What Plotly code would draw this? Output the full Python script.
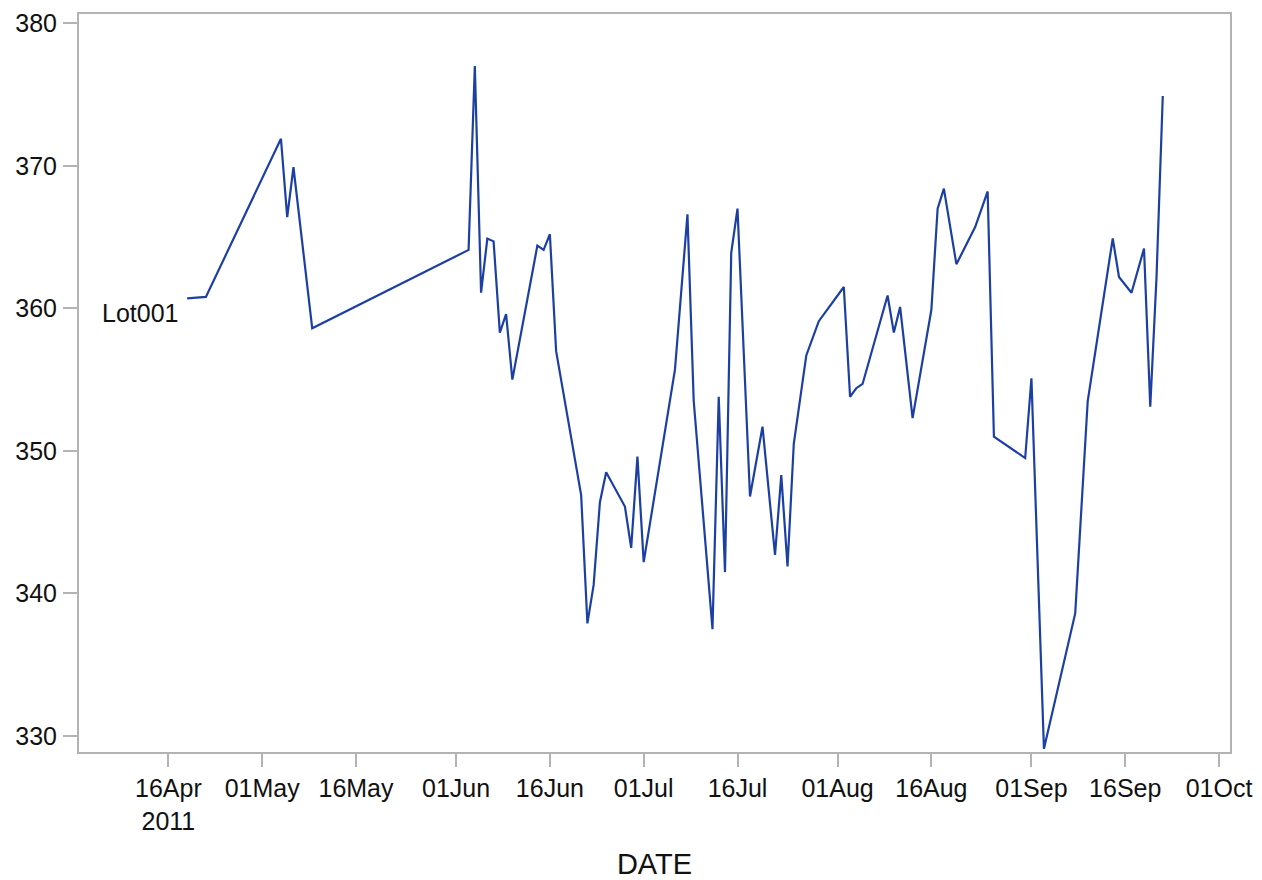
import plotly.graph_objects as go

# Measurement dates and values for Lot001
dates = [
    "2011-04-19", "2011-04-22", "2011-05-04", "2011-05-05", "2011-05-06", "2011-05-09",
    "2011-06-03", "2011-06-04", "2011-06-05", "2011-06-06", "2011-06-07", "2011-06-08",
    "2011-06-09", "2011-06-10", "2011-06-14", "2011-06-15", "2011-06-16", "2011-06-17",
    "2011-06-21", "2011-06-22", "2011-06-23", "2011-06-24", "2011-06-25", "2011-06-28",
    "2011-06-29", "2011-06-30", "2011-07-01", "2011-07-06", "2011-07-08", "2011-07-09",
    "2011-07-12", "2011-07-13", "2011-07-14", "2011-07-15", "2011-07-16", "2011-07-18",
    "2011-07-20", "2011-07-22", "2011-07-23", "2011-07-24", "2011-07-25", "2011-07-27",
    "2011-07-29", "2011-08-02", "2011-08-03", "2011-08-04", "2011-08-05", "2011-08-09",
    "2011-08-10", "2011-08-11", "2011-08-13", "2011-08-16", "2011-08-17", "2011-08-18",
    "2011-08-20", "2011-08-23", "2011-08-25", "2011-08-26", "2011-08-31", "2011-09-01",
    "2011-09-03", "2011-09-08", "2011-09-10", "2011-09-14", "2011-09-15", "2011-09-17",
    "2011-09-19", "2011-09-20", "2011-09-21", "2011-09-22",
]
values = [
    360.7, 360.8, 371.9, 366.4, 369.9, 358.6,
    364.1, 377.0, 361.1, 364.9, 364.7, 358.3,
    359.6, 355.0, 364.4, 364.1, 365.2, 357.0,
    346.9, 337.9, 340.6, 346.4, 348.5, 346.1,
    343.2, 349.6, 342.2, 355.7, 366.6, 353.5,
    337.5, 353.8, 341.5, 363.9, 367.0, 346.8,
    351.7, 342.7, 348.3, 341.9, 350.5, 356.7,
    359.1, 361.5, 353.8, 354.4, 354.7, 360.9,
    358.3, 360.1, 352.3, 359.9, 367.0, 368.4,
    363.1, 365.7, 368.2, 351.0, 349.5, 355.1,
    329.1, 338.6, 353.5, 364.9, 362.2, 361.1,
    364.2, 353.1, 362.2, 374.9,
]
series_name = "Lot001"

tick_dates = [
    "2011-04-16", "2011-05-01", "2011-05-16", "2011-06-01", "2011-06-16", "2011-07-01",
    "2011-07-16", "2011-08-01", "2011-08-16", "2011-09-01", "2011-09-16", "2011-10-01",
]
tick_text = [
    "16Apr<br>2011", "01May", "16May", "01Jun", "16Jun", "01Jul",
    "16Jul", "01Aug", "16Aug", "01Sep", "16Sep", "01Oct",
]
y_ticks = [330, 340, 350, 360, 370, 380]

FONT = "Liberation Sans, Arial, sans-serif"
TEXT = "#111111"
LINE = "#1c3fa3"
FRAME = "#b3b3b3"

fig = go.Figure()
fig.add_trace(go.Scatter(
    x=dates, y=values, mode="lines", name=series_name,
    line=dict(color=LINE, width=2.2), showlegend=False,
))

# Curve label at the start of the series
fig.add_annotation(
    x=dates[0], y=values[0], text=series_name, showarrow=False,
    xanchor="right", yanchor="top", xshift=-7, yshift=1,
    font=dict(family=FONT, size=25, color=TEXT),
)

fig.update_layout(
    width=1262, height=880,
    margin=dict(l=79, r=32, t=14, b=128),
    paper_bgcolor="white", plot_bgcolor="white",
    font=dict(family=FONT, size=25, color=TEXT),
    xaxis=dict(
        type="date",
        range=["2011-04-01 17:00", "2011-10-02 18:00"],
        tickmode="array", tickvals=tick_dates, ticktext=tick_text,
        ticks="outside", ticklen=13, tickwidth=2, tickcolor=FRAME,
        showline=True, linecolor=FRAME, linewidth=2, mirror=True,
        showgrid=False, zeroline=False, automargin=False,
        tickfont=dict(family=FONT, size=25, color=TEXT),
        title=dict(text="DATE", font=dict(family=FONT, size=29, color=TEXT), standoff=20),
    ),
    yaxis=dict(
        range=[328.88, 380.65],
        tickmode="array", tickvals=y_ticks,
        ticks="outside", ticklen=14, tickwidth=2, tickcolor=FRAME,
        showline=True, linecolor=FRAME, linewidth=2, mirror=True,
        showgrid=False, zeroline=False, automargin=False,
        tickfont=dict(family=FONT, size=25, color=TEXT),
        ticklabelstandoff=1,
    ),
)

fig.write_html("out.html")
